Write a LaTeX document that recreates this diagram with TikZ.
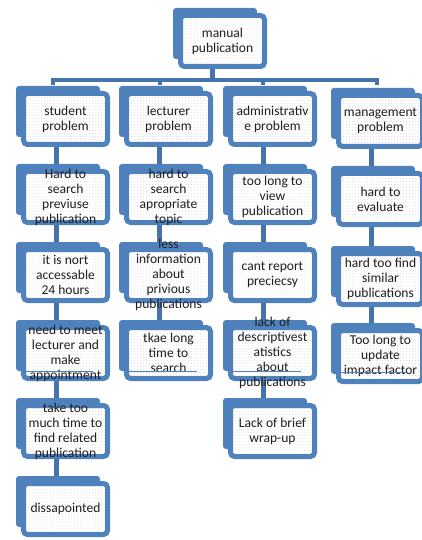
\documentclass[tikz,border=0pt]{standalone}
\usepackage{fontspec}
\setmainfont{Carlito}
\usetikzlibrary{patterns}
\definecolor{boxblue}{HTML}{4F81BD}
\definecolor{connblue}{HTML}{4573AB}
\definecolor{txtgray}{HTML}{1F1F1F}
\pgfdeclarelayer{bg}
\pgfsetlayers{bg,main}
\tikzset{
  front/.style={draw=boxblue, line width=5bp, rounded corners=4bp,
    minimum width=84bp, minimum height=51bp, inner sep=0pt,
    preaction={fill=white}, pattern=dots, pattern color=black!15},
  backbox/.style={fill=boxblue, rounded corners=3bp},
  txt/.style={font=\fontsize{13.6}{15}\selectfont, align=center, text=txtgray, inner sep=0pt},
  conn/.style={draw=connblue, line width=5bp},
  bus/.style={draw=connblue, line width=4bp},
  fine/.style={draw=boxblue, line width=0.8bp}
}
\newcommand\pbox[4]{%
  \fill[backbox] (#2-5,#3-5) rectangle (#2+79,#3+46);
  \node[front] (#1) at (#2+44.5,#3+28) {};
  \node[txt] (#1t) at (#1) {#4};
}
\begin{document}
\begin{tikzpicture}[x=1bp,y=-1bp]
\useasboundingbox (0,0) rectangle (421,540);
% top
\pbox{top}{178}{13}{manual\\publication}
% level 1
\pbox{s1}{21}{91}{student\\problem}
\pbox{l1}{124}{91}{lecturer\\problem}
\pbox{a1}{228}{91}{administrativ\\e problem}
\pbox{m1}{336}{93}{management\\problem}
% student column
\pbox{s2}{21}{169}{Hard to\\search\\previuse\\publication}
\pbox{s3}{21}{247}{it is nort\\accessable\\24 hours}
\pbox{s4}{21}{325}{need to meet\\lecturer and\\make\\appointment}
\pbox{s5}{21}{403}{take too\\much time to\\find related\\publication}
\pbox{s6}{21}{481}{dissapointed}
% lecturer column
\pbox{l2}{124}{169}{hard to\\search\\apropriate\\topic}
\pbox{l3}{124}{247}{less\\information\\about\\privious\\publications}
\pbox{l4}{124}{325}{tkae long\\time to\\search}
% administrative column
\pbox{a2}{228}{169}{too long to\\view\\publication}
\pbox{a3}{228}{247}{cant report\\preciecsy}
\pbox{a4}{228}{325}{lack of\\descriptivest\\atistics\\about\\publications}
\pbox{a5}{228}{403}{Lack of brief\\wrap-up}
% management column
\pbox{m2}{336}{171}{hard to\\evaluate}
\pbox{m3}{336}{251}{hard too find\\similar\\publications}
\pbox{m4}{336}{328}{Too long to\\update\\impact factor}
% thin lines
\draw[fine] ([xshift=2bp,yshift=9.5bp]s4.south west) -- ++(70,0);
\draw[fine] ([xshift=2bp,yshift=9.5bp]l4.south west) -- ++(71,0);
\draw[fine] ([xshift=3bp,yshift=9.5bp]a4.south west) -- ++(70,0);
\draw[fine] ([xshift=-1bp,yshift=12bp]m4.south west) -- ++(73,0);
% connectors
\begin{pgfonlayer}{bg}
\draw[conn] ([xshift=-10bp]top.south) -- ++(0,11.5) coordinate (bm);
\coordinate (d1) at ([xshift=-12.5bp]s1.north |- bm);
\coordinate (d2) at ([xshift=-8.5bp]l1.north |- bm);
\coordinate (d3) at ([xshift=-9.5bp]a1.north |- bm);
\coordinate (d4) at ([xshift=-4bp]m1.north |- bm);
\draw[bus] (d1) ++(0,4.5) -- (d1) -- (d4) -- ++(0,4.5);
\draw[bus] (d2) -- ++(0,4.5);
\draw[bus] (d3) -- ++(0,4.5);
\foreach \c/\a/\b in {s/1/2,s/2/3,s/3/4,s/4/5,s/5/6,l/1/2,l/2/3,l/3/4,a/1/2,a/2/3,a/3/4,a/4/5,m/1/2,m/2/3,m/3/4}
  \draw[conn] ([xshift=-9bp]\c\a.south) -- ([xshift=-9bp]\c\b.north);
\end{pgfonlayer}
\end{tikzpicture}
\end{document}
